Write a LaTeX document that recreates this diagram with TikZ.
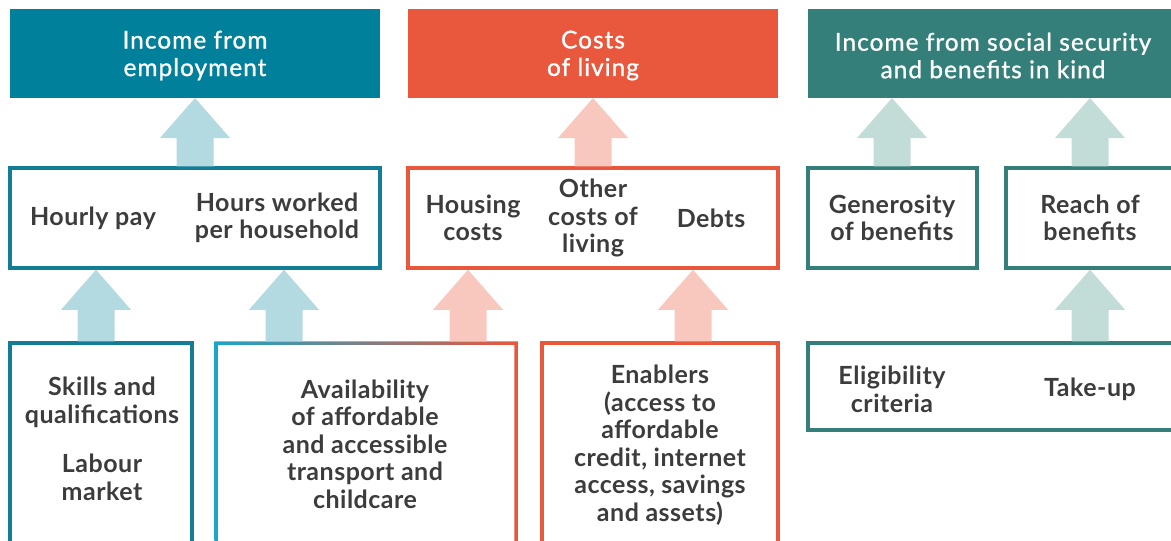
\documentclass[tikz,border=0pt]{standalone}
\usepackage{fontspec}
\setmainfont{Lato}
\newfontfamily\hdrfont{Lato}[LetterSpace=4, FakeBold=1]
\newfontfamily\bodyfont{Lato}[LetterSpace=2]
\usetikzlibrary{calc}
\definecolor{hblue}{HTML}{00809B}
\definecolor{hred}{HTML}{E9573D}
\definecolor{hteal}{HTML}{347F79}
\definecolor{bblue}{HTML}{137D98}
\definecolor{bcyan}{HTML}{19A5C9}
\definecolor{lblue}{HTML}{B3D9E1}
\definecolor{lred}{HTML}{F8C8BF}
\definecolor{lteal}{HTML}{C2DCD8}
\definecolor{textc}{HTML}{3C3C3C}
\newcommand\blockarrow[3]{%
  \fill[#1] let \p1=#2, \p2=#3 in
    (\x1-18.5pt,\y1) -- (\x1-18.5pt,\y2-40pt) -- (\x1-35pt,\y2-40pt) -- (\x1,\y2)
    -- (\x1+35pt,\y2-40pt) -- (\x1+18.5pt,\y2-40pt) -- (\x1+18.5pt,\y1) -- cycle;}
\tikzset{
  hdr/.style={rectangle, inner sep=0pt, outer sep=0pt, minimum height=89pt, text=white, align=center,
    font=\hdrfont\fontsize{24.5}{27.5}\selectfont},
  bx/.style={rectangle, draw, line width=3.5pt, inner sep=0pt, outer sep=0pt},
  txt/.style={inner sep=0pt, align=center, text=textc, font=\bodyfont\bfseries\fontsize{25}{27.5}\selectfont}
}
\begin{document}
\begin{tikzpicture}[x=1pt,y=-1pt]
\useasboundingbox (0,0) rectangle (1171,541);
\clip (0,0) rectangle (1171,541);
% headers
\node[hdr, fill=hblue, minimum width=370pt] (h1) at (195,53.5) {};
\node[hdr] (h1t) at (195,55.5) {Income from\\employment};
\node[hdr, fill=hred, minimum width=370pt] (h2) at (593,53.5) {};
\node[hdr] (h2t) at (593,55.5) {Costs\\of living};
\node[hdr, fill=hteal, minimum width=382pt] (h3) at (999,53.5) {};
\node[hdr] (h3t) at (993,55.5) {Income from social security\\and benefits in kind};
% middle row
\node[bx, draw=bblue, minimum width=370pt, minimum height=100pt] (m1) at (195,218) {};
\node[bx, draw=hred, minimum width=370pt, minimum height=100pt] (m2) at (593,218) {};
\node[bx, draw=hteal, minimum width=169pt, minimum height=100pt] (m3) at (892.5,218) {};
\node[bx, draw=hteal, minimum width=184pt, minimum height=100pt] (m4) at (1098,218) {};
% bottom row
\node[bx, draw=bblue, minimum width=182pt, minimum height=227pt] (b1) at (101,456.5) {};
\node[bx, draw=none, minimum width=300pt, minimum height=227pt] (b2) at (366,456.5) {};
\shade[left color=bcyan, right color=hred, even odd rule]
  ([shift={(-1.75pt,1.75pt)}]b2.north west) rectangle ([shift={(1.75pt,-1.75pt)}]b2.south east)
  ([shift={(1.75pt,-1.75pt)}]b2.north west) rectangle ([shift={(-1.75pt,1.75pt)}]b2.south east);
\node[bx, draw=hred, minimum width=236pt, minimum height=227pt] (b3) at (660,456.5) {};
\node[bx, draw=hteal, minimum width=382pt, minimum height=87pt] (b4) at (999,386.5) {};
% arrow columns
\coordinate (a1) at (195,0);
\coordinate (a2) at (593,0);
\coordinate (a3) at (892,0);
\coordinate (a4) at (1090,0);
\coordinate (a5) at (96,0);
\coordinate (a6) at (284,0);
\coordinate (a7) at (468,0);
\coordinate (a8) at (693,0);
% arrows
\blockarrow{lblue}{([yshift=1.75pt]m1.north -| a1)}{(h1.south -| a1)}
\blockarrow{lred}{([yshift=1.75pt]m2.north -| a2)}{(h2.south -| a2)}
\blockarrow{lteal}{([yshift=1.75pt]m3.north -| a3)}{(h3.south -| a3)}
\blockarrow{lteal}{([yshift=1.75pt]m4.north -| a4)}{(h3.south -| a4)}
\blockarrow{lblue}{([yshift=1.75pt]b1.north -| a5)}{([yshift=-1.75pt]m1.south -| a5)}
\blockarrow{lblue}{([yshift=1.75pt]b2.north -| a6)}{([yshift=-1.75pt]m1.south -| a6)}
\blockarrow{lred}{([yshift=1.75pt]b2.north -| a7)}{([yshift=-1.75pt]m2.south -| a7)}
\blockarrow{lred}{([yshift=1.75pt]b3.north -| a8)}{([yshift=-1.75pt]m2.south -| a8)}
\blockarrow{lteal}{([yshift=1.75pt]b4.north -| a4)}{([yshift=-1.75pt]m4.south -| a4)}
% texts middle
\node[txt] (t1) at (93,218) {Hourly pay};
\node[txt] (t2) at (277,218) {Hours worked\\per household};
\node[txt] (t3) at (473,218) {Housing\\costs};
\node[txt] (t4) at (593,218) {Other\\costs of\\living};
\node[txt] (t5) at (711,218) {Debts};
\node[txt] (t6) at (892,218) {Generosity\\of benefits};
\node[txt] (t7) at (1090,218) {Reach of\\benefits};
% texts bottom
\node[txt] (t8) at (102,402.5) {Skills and\\qualifications};
\node[txt] (t9) at (102,477.5) {Labour\\market};
\node[txt] (t10) at (365,444) {Availability\\of affordable\\and accessible\\transport and\\childcare};
\node[txt] (t11) at (660,445) {Enablers\\(access to\\affordable\\credit, internet\\access, savings\\and assets)};
\node[txt] (t12) at (892,389.5) {Eligibility\\criteria};
\node[txt] (t13) at (1090,389) {Take-up};
\end{tikzpicture}
\end{document}
